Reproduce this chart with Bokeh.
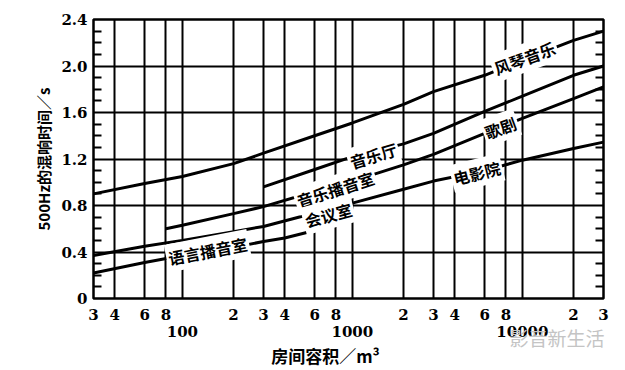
from bokeh.plotting import figure
from bokeh.models import FixedTicker, LogAxis, LinearAxis, Label, Range1d
from bokeh.embed import file_html
from bokeh.resources import INLINE

# ---- data ----
organ_v = [30, 60, 100, 200, 300, 600, 1000, 2000, 3000, 6000, 10000, 20000, 30000]
organ_t = [0.90, 0.99, 1.05, 1.16, 1.25, 1.40, 1.51, 1.67, 1.78, 1.92, 2.05, 2.22, 2.30]

hall_v = [300, 600, 1000, 2000, 3000, 6000, 10000, 20000, 30000]
hall_t = [0.96, 1.11, 1.22, 1.33, 1.42, 1.61, 1.74, 1.92, 2.00]

studio_v = [80, 100, 200, 300, 600, 1000, 2000, 3000, 6000, 10000, 20000, 30000]
studio_t = [0.60, 0.63, 0.73, 0.79, 0.92, 1.01, 1.15, 1.24, 1.42, 1.55, 1.72, 1.82]

conf_v = [30, 60, 100, 200, 300, 600, 1000, 2000, 3000, 6000, 10000, 20000, 30000]
conf_t = [0.37, 0.45, 0.50, 0.575, 0.62, 0.735, 0.82, 0.94, 1.01, 1.10, 1.19, 1.29, 1.345]

speech_v = [30, 60, 100, 200, 300, 400, 600]
speech_t = [0.22, 0.31, 0.37, 0.44, 0.49, 0.52, 0.585]

curve_labels = ["风琴音乐", "音乐播音室", "会议室", "电影院", "歌剧", "语言播音室", "音乐厅"]
label_v = [10300, 795, 723, 5400, 7430, 141, 1330]
label_t = [2.07, 0.94, 0.72, 1.08, 1.47, 0.41, 1.23]
label_angle = [20, 18, 15, 14, 20, 11, 17]

x_row1_ticks = [30, 40, 60, 80, 200, 300, 400, 600, 800, 2000, 3000, 4000, 6000, 8000, 20000, 30000]
x_row1_labels = ["3", "4", "6", "8", "2", "3", "4", "6", "8", "2", "3", "4", "6", "8", "2", "3"]
x_row2_ticks = [100, 1000, 10000]
x_row2_labels = ["100", "1000", "10000"]
x_grid = [40, 60, 80, 100, 200, 300, 400, 600, 800, 1000, 2000, 3000, 4000, 6000, 8000, 10000, 20000]
y_ticks = [0, 0.4, 0.8, 1.2, 1.6, 2.0, 2.4]
y_labels = ["0", "0.4", "0.8", "1.2", "1.6", "2.0", "2.4"]
y_minor = [0.1, 0.2, 0.3, 0.5, 0.6, 0.7, 0.9, 1.0, 1.1, 1.3, 1.4, 1.5, 1.7, 1.8, 1.9, 2.1, 2.2, 2.3]
y_grid = [0.4, 0.8, 1.2, 1.6, 2.0]

x_title = "房间容积／m³"
x_title_at = [695]          # horizontal anchor of the x-axis title (as in the reference)
y_title = "500Hz的混响时间／s"
watermark = "影音新生活"
watermark_at = [16000]

TICK_FONT = "DejaVu Serif"
CJK = "Noto Sans CJK SC"

p = figure(width=625, height=370, x_axis_type="log",
           x_range=Range1d(30, 30000), y_range=Range1d(0, 2.4),
           output_backend="svg", toolbar_location=None,
           min_border_left=93, min_border_right=22, min_border_top=19, min_border_bottom=72)
p.background_fill_color = "white"
p.border_fill_color = "white"
p.outline_line_color = "black"
p.outline_line_width = 2.5

# grids
p.xgrid[0].ticker = FixedTicker(ticks=x_grid)
p.ygrid[0].ticker = FixedTicker(ticks=y_grid)
for g in (p.xgrid[0], p.ygrid[0]):
    g.grid_line_color = "black"
    g.grid_line_width = 2
    g.grid_line_alpha = 1


def style_x(ax, size="15px", color="black", font=TICK_FONT, bold=True):
    ax.major_tick_in = 0
    ax.major_tick_out = 0
    ax.minor_tick_line_color = None
    ax.axis_line_color = None
    ax.major_label_text_font = font
    ax.major_label_text_font_style = "bold" if bold else "normal"
    ax.major_label_text_font_size = size
    ax.major_label_text_color = color


# bottom axis row 1
xa = p.xaxis[0]
xa.ticker = FixedTicker(ticks=x_row1_ticks)
xa.major_label_overrides = {float(t): l for t, l in zip(x_row1_ticks, x_row1_labels)}
style_x(xa)
xa.major_label_standoff = 10

# bottom axis row 2 (decades)
xa2 = LogAxis(ticker=FixedTicker(ticks=x_row2_ticks))
xa2.major_label_overrides = {float(t): l for t, l in zip(x_row2_ticks, x_row2_labels)}
style_x(xa2)
xa2.major_label_standoff = 3
p.add_layout(xa2, "below")

# bottom row 3: watermark
xa3 = LogAxis(ticker=FixedTicker(ticks=watermark_at))
xa3.major_label_overrides = {float(watermark_at[0]): watermark}
style_x(xa3, size="19px", color="#c4c4c4", font=CJK, bold=False)
xa3.major_label_standoff = -16
p.add_layout(xa3, "below")

# bottom row 4: axis title
xa4 = LogAxis(ticker=FixedTicker(ticks=x_title_at))
xa4.major_label_overrides = {float(x_title_at[0]): x_title}
style_x(xa4, size="17px", color="black", font=CJK, bold=True)
xa4.major_label_standoff = -11
p.add_layout(xa4, "below")

# left axis
ya = p.yaxis[0]
ya.ticker = FixedTicker(ticks=y_ticks, minor_ticks=y_minor)
ya.major_label_overrides = {float(t): l for t, l in zip(y_ticks, y_labels)}
ya.major_tick_in = 0
ya.major_tick_out = 0
ya.minor_tick_in = 8
ya.minor_tick_out = 0
ya.minor_tick_line_width = 2
ya.minor_tick_line_color = "black"
ya.axis_line_color = None
ya.major_label_standoff = 6
ya.major_label_text_font = TICK_FONT
ya.major_label_text_font_style = "bold"
ya.major_label_text_font_size = "15px"
ya.major_label_text_color = "black"
ya.axis_label = y_title
ya.axis_label_text_font = CJK
ya.axis_label_text_font_style = "bold"
ya.axis_label_text_font_size = "15px"
ya.axis_label_text_color = "black"
ya.axis_label_standoff = 4

# right axis: only inner minor ticks
ra = LinearAxis(ticker=FixedTicker(ticks=[], minor_ticks=y_minor))
ra.major_tick_in = 0
ra.major_tick_out = 0
ra.minor_tick_in = 8
ra.minor_tick_out = 0
ra.minor_tick_line_width = 2
ra.minor_tick_line_color = "black"
ra.axis_line_color = None
p.add_layout(ra, "right")

# curves
for xs, ys in [(organ_v, organ_t), (hall_v, hall_t), (studio_v, studio_t),
               (conf_v, conf_t), (speech_v, speech_t)]:
    p.line(xs, ys, line_color="black", line_width=3)

# curve labels with white background (break the lines)
for txt, lv, lt, ang in zip(curve_labels, label_v, label_t, label_angle):
    p.add_layout(Label(x=lv, y=lt, text=txt, angle=ang, angle_units="deg",
                       text_align="center", text_baseline="middle",
                       text_font=CJK, text_font_style="bold", text_font_size="16px",
                       text_color="black", background_fill_color="white",
                       padding=2))

open("out.html", "w").write(file_html(p, INLINE))
